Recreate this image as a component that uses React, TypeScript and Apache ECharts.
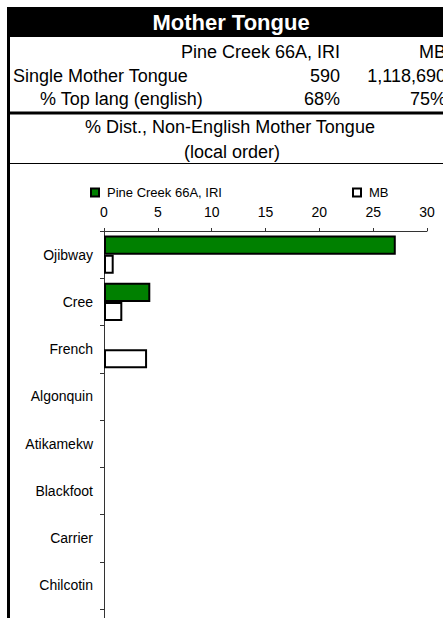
import React, { useEffect, useRef } from "react";
import * as echarts from "echarts";

const headerTitle = "Mother Tongue";
const seriesNames = ["Pine Creek 66A, IRI", "MB"];
const rowLabels = ["Single Mother Tongue", "% Top lang (english)"];
const localStats = ["590", "68%"];
const mbStats = ["1,118,690", "75%"];
const subTitle = ["% Dist., Non-English Mother Tongue", "(local order)"];

const categories = ["Ojibway", "Cree", "French", "Algonquin", "Atikamekw", "Blackfoot", "Carrier", "Chilcotin"];
const localValues = [27.1, 4.3, 0, 0, 0, 0, 0, 0];
const mbValues = [0.9, 1.7, 4.0, 0, 0, 0, 0, 0];
const xMin = 0;
const xMax = 30;
const xInterval = 5;

const FONT = "'Liberation Sans', Arial, sans-serif";

const toBarData = (vals: number[]) =>
  vals.map((v) => (v === 0 ? { value: v, itemStyle: { borderWidth: 0 } } : v));

export default function App() {
  const ref = useRef<HTMLDivElement>(null);
  useEffect(() => {
    if (!ref.current) return;
    const chart = echarts.init(ref.current, undefined, { renderer: "svg" });
    const txt = (text: string, x: number, y: number, align: string, extra: any = {}) => ({
      type: "text",
      x,
      y,
      style: {
        text,
        fill: "#000",
        font: `18px ${FONT}`,
        textAlign: align,
        textVerticalAlign: "middle",
        ...extra,
      },
      silent: true,
    });
    const legendText = { fontSize: 13, color: "#000", fontFamily: FONT, padding: [0, 0, 0, 3] };
    chart.setOption({
      animation: false,
      backgroundColor: "#fff",
      textStyle: { fontFamily: FONT },
      grid: { left: 104, right: 16, top: 231, bottom: 9, containLabel: false },
      legend: [
        {
          data: [seriesNames[0]],
          left: 85,
          top: 181,
          icon: "rect",
          itemWidth: 8,
          itemHeight: 8,
          itemGap: 4,
          textStyle: legendText,
        },
        {
          data: [seriesNames[1]],
          left: 347,
          top: 181,
          icon: "rect",
          itemWidth: 8,
          itemHeight: 8,
          itemGap: 4,
          textStyle: legendText,
        },
      ],
      xAxis: {
        type: "value",
        position: "top",
        min: xMin,
        max: xMax,
        interval: xInterval,
        splitLine: { show: false },
        axisLine: { show: true, lineStyle: { color: "#333", width: 1 } },
        axisTick: { show: true, length: 3, lineStyle: { color: "#333" } },
        axisLabel: { fontSize: 14, color: "#000", margin: 12, fontFamily: FONT },
      },
      yAxis: {
        type: "category",
        data: categories,
        inverse: true,
        axisLine: { show: true, lineStyle: { color: "#333", width: 1 } },
        axisTick: { show: true, length: 4, lineStyle: { color: "#333" } },
        axisLabel: { fontSize: 14, color: "#000", margin: 11, fontFamily: FONT, padding: [4, 0, 0, 0] },
      },
      series: [
        {
          name: seriesNames[0],
          type: "bar",
          data: toBarData(localValues),
          barGap: "0%",
          barCategoryGap: "19%",
          itemStyle: { color: "#008000", borderColor: "#000", borderWidth: 2 },
        },
        {
          name: seriesNames[1],
          type: "bar",
          data: toBarData(mbValues),
          barGap: "0%",
          barCategoryGap: "19%",
          itemStyle: { color: "#fff", borderColor: "#000", borderWidth: 2 },
        },
      ],
      graphic: [
        { type: "rect", shape: { x: 7, y: 7, width: 460, height: 30 }, style: { fill: "#000" }, silent: true },
        txt(headerTitle, 231, 22, "center", { fill: "#fff", font: `bold 22px ${FONT}` }),
        txt(seriesNames[0], 340, 52, "right"),
        txt(seriesNames[1], 446, 52, "right"),
        txt(rowLabels[0], 13, 76, "left"),
        txt(localStats[0], 340, 76, "right"),
        txt(mbStats[0], 446, 76, "right"),
        txt(rowLabels[1], 40, 99, "left"),
        txt(localStats[1], 340, 99, "right"),
        txt(mbStats[1], 446, 99, "right"),
        { type: "line", shape: { x1: 7, y1: 113, x2: 443, y2: 113 }, style: { stroke: "#000", lineWidth: 3 }, silent: true },
        txt(subTitle[0], 230, 127, "center"),
        txt(subTitle[1], 232, 152, "center"),
        { type: "line", shape: { x1: 10, y1: 163.5, x2: 443, y2: 163.5 }, style: { stroke: "#000", lineWidth: 1 }, silent: true },
        { type: "line", shape: { x1: 8.5, y1: 37, x2: 8.5, y2: 618 }, style: { stroke: "#000", lineWidth: 3 }, silent: true },
        { type: "line", shape: { x1: 104.5, y1: 609, x2: 104.5, y2: 618 }, style: { stroke: "#333", lineWidth: 1 }, silent: true },
      ],
    });
    return () => chart.dispose();
  }, []);
  return <div ref={ref} style={{ position: "fixed", left: 0, top: 0, width: 443, height: 618 }} />;
}
